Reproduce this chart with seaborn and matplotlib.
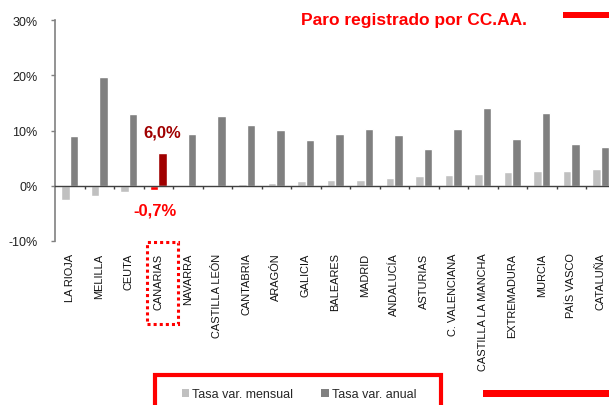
import matplotlib
matplotlib.use("Agg")
import matplotlib.pyplot as plt
import seaborn as sns
import pandas as pd
from matplotlib.patches import Rectangle, Patch
from matplotlib.ticker import FixedLocator, FuncFormatter

regions = ["LA RIOJA", "MELILLA", "CEUTA", "CANARIAS", "NAVARRA", "CASTILLA LEÓN",
           "CANTABRIA", "ARAGÓN", "GALICIA", "BALEARES", "MADRID", "ANDALUCÍA",
           "ASTURIAS", "C. VALENCIANA", "CASTILLA LA MANCHA", "EXTREMADURA",
           "MURCIA", "PAÍS VASCO", "CATALUÑA"]
mensual = [-2.6, -1.8, -1.1, -0.7, 0.05, 0.1, 0.4, 0.5, 0.85, 1.1, 1.1, 1.4,
           1.7, 1.9, 2.2, 2.4, 2.6, 2.7, 3.0]
anual = [9.0, 19.7, 12.9, 6.0, 9.3, 12.7, 11.0, 10.1, 8.3, 9.3, 10.3, 9.1,
         6.6, 10.3, 14.1, 8.5, 13.2, 7.5, 7.0]
series = ["Tasa var. mensual", "Tasa var. anual"]
yticks = [-10, 0, 10, 20, 30]
title = "Paro registrado por CC.AA."
highlight = "CANARIAS"

sns.set_theme(style="white")
plt.rcParams['font.family'] = ['Liberation Sans', 'DejaVu Sans']

df = pd.DataFrame({
    "region": regions * 2,
    "valor": mensual + anual,
    "serie": [series[0]] * len(regions) + [series[1]] * len(regions),
})

W, H = 609, 406
fig = plt.figure(figsize=(W / 100, H / 100), dpi=100)
fig.patch.set_facecolor("white")
ax = fig.add_axes([55 / W, (H - 242) / H, 560.5 / W, 221 / H])

light, dark = "#C0C0C0", "#808080"
sns.barplot(data=df, x="region", y="valor", hue="serie", hue_order=series,
            order=regions, palette=[light, dark], width=0.58, saturation=1,
            gap=0, legend=False, ax=ax)

hi = regions.index(highlight)
ax.containers[0][hi].set_facecolor("#FF0000")
ax.containers[1][hi].set_facecolor("#A00000")

ax.set_xlim(-0.5, len(regions) - 0.5)
ax.set_ylim(-10, 30)
ax.set_yticks(yticks)
ax.yaxis.set_major_formatter(FuncFormatter(lambda v, p: f"{v:.0f}%"))
ax.set_xlabel("")
ax.set_ylabel("")

for s in ["top", "right"]:
    ax.spines[s].set_visible(False)
ax.spines["left"].set_color("#808080")
ax.spines["left"].set_linewidth(1.2)
ax.spines["bottom"].set_position(("data", 0))
ax.spines["bottom"].set_color("#404040")
ax.spines["bottom"].set_linewidth(1.0)

ax.tick_params(axis="y", which="major", left=True, length=3, width=1,
               color="#808080", pad=9.5, labelsize=9, labelcolor="#222222")
ax.xaxis.set_minor_locator(FixedLocator([i + 0.5 for i in range(len(regions) - 1)]))
ax.tick_params(axis="x", which="minor", bottom=True, length=2.5, width=1,
               color="#404040", direction="out")
ax.tick_params(axis="x", which="major", bottom=True, length=0, pad=48,
               labelsize=7.9, labelcolor="#111111")
for lab in ax.get_xticklabels():
    lab.set_rotation(90)
    lab.set_va("top")
    lab.set_ha("center")

# annotations for highlighted region
ax.annotate(f"{anual[hi]:.1f}%".replace(".", ","), (hi, anual[hi]),
            xytext=(3.2, 14.5), textcoords="offset points", ha="center", va="center",
            color="#A00000", fontsize=12, fontweight="bold")
ax.annotate(f"{mensual[hi]:.1f}%".replace(".", ","), (hi, mensual[hi]),
            xytext=(-2.7, -15), textcoords="offset points", ha="center", va="center",
            color="#FF0000", fontsize=12, fontweight="bold")

# title
fig.text(301 / W, 1 - 21 / H, title, color="#FF0000", fontsize=12.5,
         fontweight="bold", ha="left", va="center")

# decorative red bars
fig.patches.append(Rectangle((563 / W, 1 - 19 / H), 50 / W, 6 / H,
                             transform=fig.transFigure, color="#FF0000", lw=0))
fig.patches.append(Rectangle((483 / W, 1 - 398 / H), 130 / W, 7 / H,
                             transform=fig.transFigure, color="#FF0000", lw=0))

# dotted box around highlighted label
fig.patches.append(Rectangle((147 / W, 1 - 325 / H), 31 / W, 82 / H,
                             transform=fig.transFigure, fill=False,
                             edgecolor="#FF0000", lw=2.2, linestyle=(0, (1, 1))))

# legend frame
fig.patches.append(Rectangle((155 / W, 1 - 420 / H), 286 / W, 44 / H,
                             transform=fig.transFigure, fill=False,
                             edgecolor="#FF0000", lw=3))
handles = [Patch(facecolor=light, edgecolor="none"), Patch(facecolor=dark, edgecolor="none")]
fig.legend(handles, series, loc="center", bbox_to_anchor=(299 / W, 1 - 395 / H),
           ncol=2, frameon=False, fontsize=9, handlelength=0.6, handleheight=0.6,
           handletextpad=0.25, columnspacing=2.2, borderpad=0)

fig.savefig("out.png", dpi=100)
